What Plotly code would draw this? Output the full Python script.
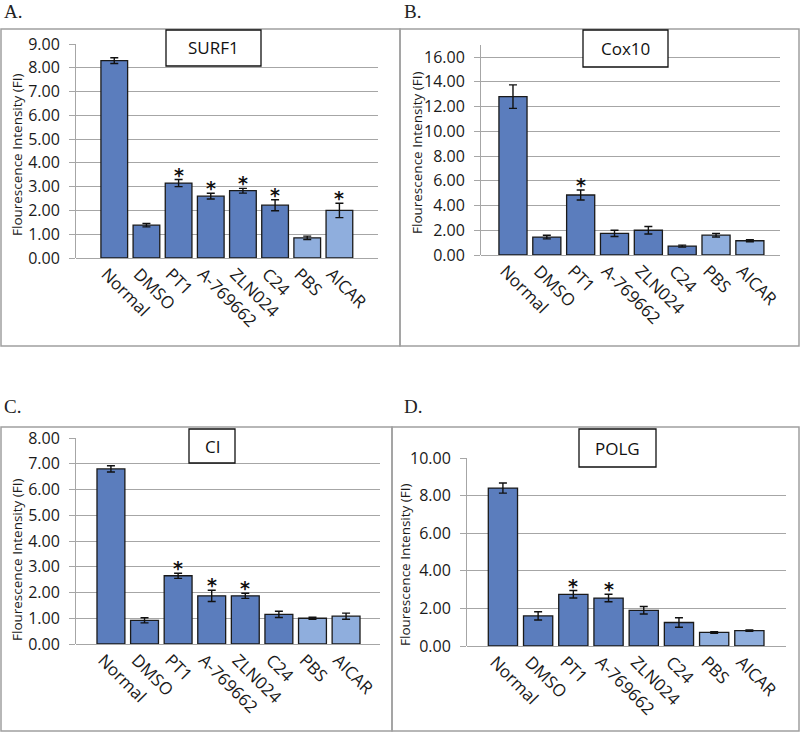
import plotly.graph_objects as go

W, H = 800, 733

categories = ["Normal", "DMSO", "PT1", "A-769662", "ZLN024", "C24", "PBS", "AICAR"]
light_bars = ["PBS", "AICAR"]

surf1_values = [8.30, 1.38, 3.15, 2.60, 2.83, 2.22, 0.85, 2.00]
surf1_errors = [0.12, 0.07, 0.15, 0.12, 0.10, 0.23, 0.07, 0.30]
surf1_stars = ["PT1", "A-769662", "ZLN024", "C24", "AICAR"]

cox10_values = [12.80, 1.45, 4.85, 1.75, 2.00, 0.72, 1.60, 1.15]
cox10_errors = [0.95, 0.15, 0.40, 0.25, 0.30, 0.08, 0.15, 0.08]
cox10_stars = ["PT1"]

ci_values = [6.80, 0.92, 2.65, 1.87, 1.87, 1.15, 1.00, 1.08]
ci_errors = [0.12, 0.10, 0.10, 0.22, 0.10, 0.12, 0.04, 0.12]
ci_stars = ["PT1", "A-769662", "ZLN024"]

polg_values = [8.40, 1.60, 2.75, 2.55, 1.90, 1.25, 0.72, 0.82]
polg_errors = [0.27, 0.22, 0.20, 0.20, 0.20, 0.25, 0.04, 0.04]
polg_stars = ["PT1", "A-769662"]

DARK = "#5B7DBD"
LIGHT = "#8FAEDD"
GRID = "#A6A6A6"
FONT = "Open Sans"
y_title = "Flourescence Intensity (FI)"


def px(x):
    return x / W


def py(y):
    return 1 - y / H


panels = [
    dict(name="SURF1", v=surf1_values, e=surf1_errors, s=surf1_stars, letter="A.",
         xp=(76, 378), yp=(258, 44), xr=(-1.19, 8.2), yr=(0, 9), dt=1,
         box=(166, 30, 261, 66), lp=(2, 12), tp=(17, 155), outer=(1, 29, 400, 346)),
    dict(name="Cox10", v=cox10_values, e=cox10_errors, s=cox10_stars, letter="B.",
         xp=(481, 780), yp=(255, 45), xr=(-0.945, 7.89), yr=(0, 16.97), dt=2,
         box=(583, 30, 668, 67), lp=(402, 12), tp=(417, 153), outer=(400, 29, 799, 346)),
    dict(name="CI", v=ci_values, e=ci_errors, s=ci_stars, letter="C.",
         xp=(76, 380), yp=(644, 438), xr=(-1.04, 8.01), yr=(0, 8), dt=1,
         box=(189, 429, 235, 463), lp=(2, 406), tp=(17, 560), outer=(1, 427, 392, 731)),
    dict(name="POLG", v=polg_values, e=polg_errors, s=polg_stars, letter="D.",
         xp=(467, 786), yp=(646, 458), xr=(-1.02, 8.04), yr=(0, 10), dt=2,
         box=(579, 429, 656, 467), lp=(402, 406), tp=(405, 565), outer=(392, 427, 799, 731)),
]

fig = go.Figure()
shapes = []
annotations = []

for i, p in enumerate(panels, start=1):
    xa = "x" if i == 1 else f"x{i}"
    ya = "y" if i == 1 else f"y{i}"
    colors = [LIGHT if c in light_bars else DARK for c in categories]
    fig.add_trace(go.Bar(
        x=categories, y=p["v"], xaxis=xa, yaxis=ya,
        marker=dict(color=colors, line=dict(color="#1A1A1A", width=1.3)),
        width=0.83,
        error_y=dict(type="data", array=p["e"], visible=True, color="#111111",
                     thickness=1.4, width=4),
        showlegend=False, hoverinfo="x+y",
    ))
    for c, v, e in zip(categories, p["v"], p["e"]):
        if c in p["s"]:
            annotations.append(dict(x=c, y=v + e, xref=xa, yref=ya, text="<b>*</b>",
                                    showarrow=False, yanchor="bottom", yshift=-8,
                                    font=dict(family="DejaVu Sans", size=19, color="#111111")))
    layout_x = dict(domain=[px(p["xp"][0]), px(p["xp"][1])], range=list(p["xr"]),
                    anchor=ya, tickangle=45, showgrid=False, showline=False,
                    ticks="", ticklabelshift=-8, ticklabelstandoff=2,
                    tickfont=dict(family=FONT, size=17, color="#1A1A1A"),
                    zeroline=False, fixedrange=True, automargin=False)
    layout_y = dict(domain=[py(p["yp"][0]), py(p["yp"][1])], range=list(p["yr"]),
                    anchor=xa, dtick=p["dt"], tick0=0, tickformat=".2f",
                    showgrid=True, gridcolor=GRID, gridwidth=1,
                    showline=True, linecolor=GRID, linewidth=1,
                    ticks="outside", ticklen=6, tickcolor=GRID,
                    ticklabelstandoff=6,
                    tickfont=dict(family=FONT, size=16, color="#1A1A1A"),
                    zeroline=True, zerolinecolor=GRID, zerolinewidth=1,
                    fixedrange=True, automargin=False)
    fig.update_layout(**{("xaxis" if i == 1 else f"xaxis{i}"): layout_x,
                         ("yaxis" if i == 1 else f"yaxis{i}"): layout_y})
    ox0, oy0, ox1, oy1 = p["outer"]
    shapes.append(dict(type="rect", xref="paper", yref="paper",
                       x0=px(ox0), x1=px(ox1), y0=py(oy1), y1=py(oy0),
                       line=dict(color="#A0A0A0", width=1.5), layer="below"))
    bx0, by0, bx1, by1 = p["box"]
    shapes.append(dict(type="rect", xref="paper", yref="paper",
                       x0=px(bx0), x1=px(bx1), y0=py(by1), y1=py(by0),
                       line=dict(color="#111111", width=1.3), fillcolor="white", layer="above"))
    annotations.append(dict(x=px((bx0 + bx1) / 2), y=py((by0 + by1) / 2), xref="paper", yref="paper",
                            text=p["name"], showarrow=False, xanchor="center", yanchor="middle",
                            font=dict(family=FONT, size=17, color="#111111")))
    annotations.append(dict(x=px(p["lp"][0]), y=py(p["lp"][1]), xref="paper", yref="paper",
                            text=p["letter"], showarrow=False, xanchor="left", yanchor="middle",
                            font=dict(family="Liberation Serif", size=19, color="#222222")))
    annotations.append(dict(x=px(p["tp"][0]), y=py(p["tp"][1]), xref="paper", yref="paper",
                            text=y_title, showarrow=False, textangle=-90,
                            xanchor="center", yanchor="middle",
                            font=dict(family=FONT, size=13.5, color="#1A1A1A")))

fig.update_layout(width=W, height=H, margin=dict(l=0, r=0, t=0, b=0),
                  paper_bgcolor="white", plot_bgcolor="white",
                  shapes=shapes, annotations=annotations, bargap=0.17)

fig.write_html("out.html", config={"displayModeBar": False},
               post_script="document.body.style.margin='0';document.body.style.overflow='hidden';")
